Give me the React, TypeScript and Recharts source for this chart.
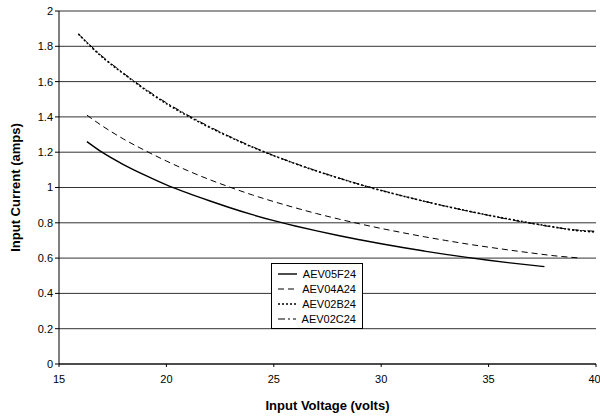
import React from 'react';
import { LineChart, Line, XAxis, YAxis, CartesianGrid, Label } from 'recharts';

// values (volts -> amps)
const voltsF24 = [16.3, 17, 18, 19, 20, 21, 22, 23, 24, 25, 26, 27, 28, 29, 30, 31, 32, 33, 34, 35, 36, 37.6];
const ampsF24 = [1.26, 1.2, 1.13, 1.07, 1.015, 0.968, 0.925, 0.884, 0.846, 0.812, 0.782, 0.754, 0.728, 0.704, 0.681, 0.66, 0.64, 0.621, 0.604, 0.588, 0.573, 0.552];

const voltsA24 = [16.3, 17, 18, 19, 20, 21, 22, 23, 24, 25, 26, 27, 28, 29, 30, 31, 32, 33, 34, 35, 36, 37, 38, 39.3];
const ampsA24 = [1.41, 1.35, 1.275, 1.21, 1.15, 1.095, 1.045, 1.0, 0.958, 0.92, 0.885, 0.852, 0.822, 0.794, 0.768, 0.744, 0.721, 0.7, 0.68, 0.662, 0.645, 0.629, 0.614, 0.6];

const voltsB24 = [15.9, 17, 18, 19, 20, 21, 22, 23, 24, 25, 26, 27, 28, 29, 30, 31, 32, 33, 34, 35, 36, 37, 38, 39, 40];
const ampsB24 = [1.87, 1.74, 1.645, 1.555, 1.475, 1.405, 1.341, 1.283, 1.229, 1.18, 1.135, 1.093, 1.054, 1.017, 0.983, 0.952, 0.922, 0.894, 0.868, 0.843, 0.82, 0.798, 0.777, 0.758, 0.748];

const voltsC24 = [15.9, 17, 18, 19, 20, 21, 22, 23, 24, 25, 26, 27, 28, 29, 30, 31, 32, 33, 34, 35, 36, 37, 38, 39, 40];
const ampsC24 = [1.87, 1.745, 1.648, 1.56, 1.48, 1.41, 1.345, 1.286, 1.231, 1.181, 1.136, 1.094, 1.055, 1.018, 0.984, 0.952, 0.922, 0.894, 0.867, 0.842, 0.818, 0.796, 0.776, 0.76, 0.752];

const xTicks = [15, 20, 25, 30, 35, 40];
const yTicks = [0, 0.2, 0.4, 0.6, 0.8, 1, 1.2, 1.4, 1.6, 1.8, 2];

const toPoints = (volts: number[], amps: number[]) => volts.map((v, i) => ({ v, a: amps[i] }));

const series = [
  { name: 'AEV05F24', data: toPoints(voltsF24, ampsF24), dash: undefined, width: 1.4 },
  { name: 'AEV04A24', data: toPoints(voltsA24, ampsA24), dash: '6 4', width: 1 },
  { name: 'AEV02B24', data: toPoints(voltsB24, ampsB24), dash: '2 2', width: 1.6 },
  { name: 'AEV02C24', data: toPoints(voltsC24, ampsC24), dash: '7 3 2 3', width: 1 },
];

const font = 'Arial, "Liberation Sans", sans-serif';

function LegendBox() {
  return (
    <div style={{
      position: 'absolute', left: 271, top: 263, border: '1px solid #000', background: '#fff',
      padding: '2px 6px', width: 78,
    }}>
      {series.map(s => (
        <div key={s.name} style={{ display: 'flex', alignItems: 'center', height: 15 }}>
          <svg width={28} height={6} style={{ marginRight: 6 }}>
            <line x1={0} y1={3} x2={28} y2={3} stroke="#000" strokeWidth={s.width} strokeDasharray={s.dash} />
          </svg>
          <span style={{ fontFamily: font, fontSize: 11, color: '#000', whiteSpace: 'nowrap' }}>{s.name}</span>
        </div>
      ))}
    </div>
  );
}

export default function App() {
  return (
    <div style={{ position: 'absolute', left: 0, top: 0, width: 600, height: 417, background: '#fff' }}>
      <LineChart width={600} height={417} margin={{ top: 11, right: 4, left: 0, bottom: 0 }}>
        <CartesianGrid vertical={false} stroke="#333" strokeWidth={1} />
        <XAxis
          type="number"
          dataKey="v"
          domain={[15, 40]}
          ticks={xTicks}
          allowDataOverflow
          height={53}
          stroke="#000"
          tickSize={3}
          tick={{ fontSize: 11, fill: '#000', fontFamily: font }}
          tickMargin={8}
        >
          <Label value="Input Voltage (volts)" position="insideBottom" offset={7}
            style={{ fontSize: 13, fontWeight: 'bold', fill: '#000', fontFamily: font }} />
        </XAxis>
        <YAxis
          type="number"
          domain={[0, 2]}
          ticks={yTicks}
          width={59}
          stroke="#000"
          tickSize={4}
          tick={{ fontSize: 11, fill: '#000', fontFamily: font }}
          tickMargin={2}
        >
          <Label value="Input Current (amps)" angle={-90} position="insideLeft" offset={15}
            style={{ fontSize: 13, fontWeight: 'bold', fill: '#000', fontFamily: font, textAnchor: 'middle' }} />
        </YAxis>
        {series.map(s => (
          <Line
            key={s.name}
            name={s.name}
            data={s.data}
            dataKey="a"
            type="monotone"
            stroke="#000"
            strokeWidth={s.width}
            strokeDasharray={s.dash}
            dot={false}
            isAnimationActive={false}
          />
        ))}
      </LineChart>
      <LegendBox />
    </div>
  );
}
